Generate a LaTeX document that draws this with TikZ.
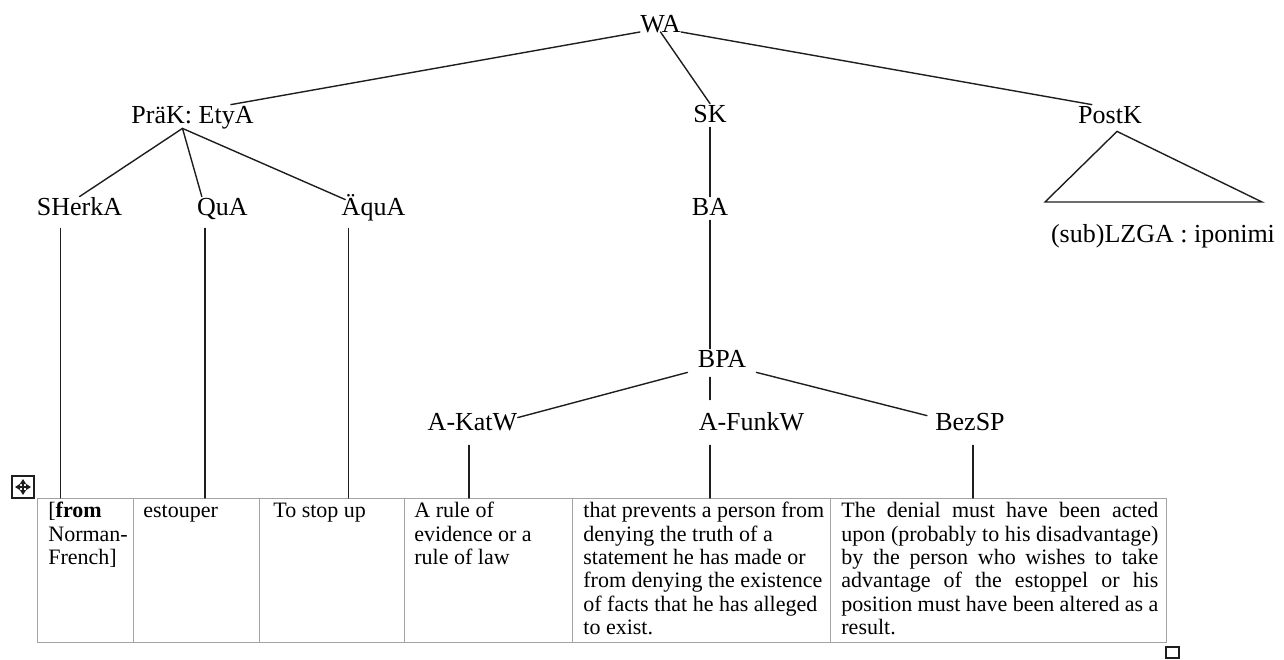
\documentclass[tikz,border=0pt]{standalone}
\usepackage{fontspec}
\setmainfont{Liberation Serif}
\usepackage{tikz}
\usetikzlibrary{calc,arrows.meta}
\definecolor{ink}{HTML}{1E1E1E}
\definecolor{rule}{HTML}{A3A3A3}
\tikzset{
  branch/.style={draw=ink, line width=0.7pt, line cap=round},
  lab/.style={inner sep=0pt, anchor=base, text height=9pt, text depth=2.5pt, font=\fontsize{13}{15}\selectfont},
  cell/.style={draw=rule, line width=0.6pt, inner sep=0pt, anchor=north west, minimum height=72pt},
  txt/.style={inner sep=0pt, anchor=north west, align=left, font=\fontsize{11}{11.7}\selectfont},
  mark box/.style={draw=ink, line width=0.6pt},
}
\newcommand{\jline}[1]{\makebox[158.5pt][s]{#1}}

\begin{document}
\begin{tikzpicture}[x=0.5pt, y=-0.5pt]
  \useasboundingbox (0,0) rectangle (1284,659);

  % tree labels
  \node[lab] (WA) at (660.5,32) {WA};
  \node[lab] (PrK) at (192.5,123) {PräK: EtyA};
  \node[lab] (SK) at (710,122) {SK};
  \node[lab] (PostK) at (1110,123) {PostK};
  \node[lab] (SHerkA) at (79.5,215) {SHerkA};
  \node[lab] (QuA) at (222.5,215) {QuA};
  \node[lab] (AquA) at (373.5,215) {ÄquA};
  \node[lab] (BA) at (710,215) {BA};
  \node[lab] (LZGA) at (1163,242) {(sub)LZGA : iponimi};
  \node[lab] (BPA) at (722,367) {BPA};
  \node[lab] (AKat) at (472.5,430) {A-KatW};
  \node[lab] (AFunk) at (751.5,430) {A-FunkW};
  \node[lab] (Bez) at (970,430) {BezSP};

  % table
  \foreach \n/\x/\w in {1/37/48,2/133/63,3/259/72.5,4/404/84,5/572/129,6/830/168}
    \node[cell, minimum width=\w pt] (c\n) at (\x,498) {};

  \node[txt] (t1) at (48,501) {\strut[\textbf{from}\\Norman-\\French]};
  \node[txt] (t2) at (143,501) {\strut estouper};
  \node[txt] (t3) at (273,501) {\strut To stop up};
  \node[txt] (t4) at (414,501) {\strut A rule of\\evidence or a\\rule of law};
  \node[txt] (t5) at (583,501) {\strut that prevents a person from\\denying the truth of a\\statement he has made or\\from denying the existence\\of facts that he has alleged\\to exist.};
  \node[txt] (t6) at (841,501) {\strut\jline{The denial must have been acted}\\\jline{upon (probably to his disadvantage)}\\\jline{by the person who wishes to take}\\\jline{advantage of the estoppel or his}\\\jline{position must have been altered as a}\\result.};

  % branches
  \coordinate (prk) at ($(PrK.south)+(-10,0)$);
  \draw[branch] (WA.base west) -- ($(PrK.north east)+(-23,0)$);
  \draw[branch] (WA.base) -- (SK.north);
  \draw[branch] (WA.base east) -- ($(PostK.north west)+(14,0)$);
  \draw[branch] (prk) -- (SHerkA.north);
  \draw[branch] (prk) -- ($(QuA.north west)+(5,0)$);
  \draw[branch] (prk) -- ($(AquA.north west)+(4,3)$);
  \draw[branch] (SK) -- (BA);
  \draw[branch] (BA.south) -- (BA.south |- BPA.north);
  \draw[branch] ($(BPA.south west)+(-10,0)$) -- ($(AKat.north east)+(0,6)$);
  \draw[branch] ($(BPA.south -| BA)+(0,5)$) -- ($(AFunk.north -| BA)+(0,-12)$);
  \draw[branch] ($(BPA.south east)+(10,0)$) -- ($(Bez.north west)+(-8,4)$);
  \draw[branch, line join=miter] ($(PostK.south)+(7,3)$) -- (1045,202) -- (1262,202) -- cycle;

  % down into the table
  \draw[branch] ($(SHerkA.south west)+(24,8)$) -- ($(SHerkA.south west |- c1.north)+(24,0)$);
  \draw[branch] ($(QuA.south west)+(8,8)$) -- ($(QuA.south west |- c2.north)+(8,0)$);
  \draw[branch] ($(AquA.south west)+(7,8)$) -- ($(AquA.south west |- c3.north)+(7,0)$);
  \draw[branch] ($(AKat.south)+(-3.5,10)$) -- ($(AKat.south |- c4.north)+(-3.5,0)$);
  \draw[branch] ($(AFunk.south -| BA)+(0,10)$) -- (BA |- c5.north);
  \draw[branch] ($(Bez.south)+(3,10)$) -- ($(Bez.south |- c6.north)+(3,0)$);

  % table handles
  \draw[mark box] (12,476) rectangle (34,498);
  \draw[mark box, {Triangle[length=2.5pt,width=3pt]}-{Triangle[length=2.5pt,width=3pt]}] (15,487) -- (31,487);
  \draw[mark box, {Triangle[length=2.5pt,width=3pt]}-{Triangle[length=2.5pt,width=3pt]}] (23,479) -- (23,495);
  \draw[mark box] (1166,647) rectangle (1179,658);
\end{tikzpicture}
\end{document}
